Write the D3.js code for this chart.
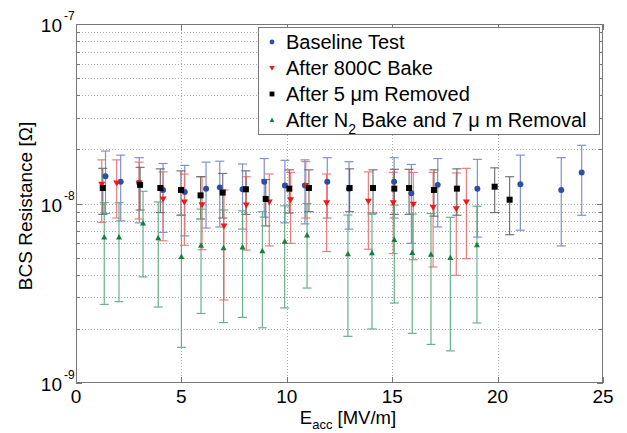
<!DOCTYPE html>
<html>
<head>
    <meta charset="UTF-8">
    <script src="https://cdn.jsdelivr.net/npm/d3@7"></script>
    <style>
        body { margin: 0; background: #fff; }
        text { font-family: Arial, "Liberation Sans", sans-serif; }
    </style>
</head>
<body>
<svg id="chart" width="627" height="433"></svg>
<script>

// values in units of 1e-8 Ohm: [E_acc, R, lower, upper]
let baseline = [
    [1.4, 1.42, 0.88, 1.96], [2.12, 1.32, 0.80, 1.86], [3.0, 1.30, 0.78, 1.80],
    [4.13, 1.19, 0.69, 1.67], [5.16, 1.16, 0.66, 1.63], [6.17, 1.21, 0.73, 1.70],
    [6.82, 1.23, 0.74, 1.72], [7.9, 1.20, 0.72, 1.66], [8.93, 1.32, 0.84, 1.78],
    [9.91, 1.26, 0.78, 1.74], [10.86, 1.26, 0.77, 1.75], [11.92, 1.32, 0.83, 1.80],
    [12.95, 1.21, 0.72, 1.71], [15.09, 1.32, 0.83, 1.80], [15.91, 1.14, 0.60, 1.65],
    [17.16, 1.27, 0.74, 1.78], [19.04, 1.21, 0.65, 1.76], [21.08, 1.28, 0.71, 1.86],
    [23.02, 1.19, 0.58, 1.80], [23.99, 1.49, 0.86, 2.11]
];
let bake800 = [
    [1.22, 1.28, 0.785, 1.75], [1.93, 1.30, 0.83, 1.75], [2.99, 1.30, 0.82, 1.70],
    [4.13, 1.06, 0.62, 1.50], [5.14, 1.02, 0.585, 1.46], [5.98, 0.985, 0.553, 1.41],
    [7.02, 0.75, 0.29, 1.19], [8.08, 0.98, 0.55, 1.41], [9.17, 1.02, 0.58, 1.46],
    [10.18, 1.05, 0.60, 1.49], [10.9, 1.26, 0.83, 1.71], [11.89, 1.01, 0.54, 1.46],
    [13.87, 1.03, 0.556, 1.50], [15.05, 1.01, 0.526, 1.49], [16.0, 0.99, 0.486, 1.49],
    [16.94, 0.953, 0.443, 1.49], [18.04, 0.935, 0.398, 1.48], [18.52, 1.02, 0.493, 1.57]
];
let removed5 = [
    [1.27, 1.22, 0.87, 1.57], [3.04, 1.27, 0.92, 1.59], [4.0, 1.22, 0.89, 1.56],
    [4.98, 1.19, 0.86, 1.52], [5.91, 1.11, 0.82, 1.41], [6.96, 1.15, 0.83, 1.47],
    [8.06, 1.20, 0.87, 1.52], [9.0, 1.06, 0.75, 1.36], [10.12, 1.21, 0.885, 1.54],
    [11.05, 1.22, 0.90, 1.54], [12.98, 1.22, 0.90, 1.56], [14.09, 1.22, 0.885, 1.54],
    [15.1, 1.21, 0.87, 1.55], [15.8, 1.22, 0.87, 1.55], [16.98, 1.19, 0.85, 1.54],
    [18.07, 1.21, 0.86, 1.56], [19.86, 1.24, 0.89, 1.58], [20.57, 1.05, 0.67, 1.41]
];
let n2bake = [
    [1.34, 0.65, 0.274, 1.01], [2.04, 0.65, 0.284, 1.01], [3.18, 0.778, 0.39, 1.17],
    [3.9, 0.645, 0.265, 1.02], [5.0, 0.506, 0.158, 0.863], [5.93, 0.585, 0.244, 0.93],
    [7.0, 0.567, 0.217, 0.92], [7.9, 0.573, 0.232, 0.91], [8.84, 0.546, 0.203, 0.90],
    [9.9, 0.616, 0.262, 0.97], [10.96, 0.668, 0.338, 1.0], [12.9, 0.525, 0.182, 0.863],
    [14.04, 0.532, 0.20, 0.87], [15.1, 0.631, 0.279, 0.98], [15.95, 0.534, 0.189, 0.874],
    [16.84, 0.522, 0.164, 0.88], [17.76, 0.50, 0.151, 0.838], [19.02, 0.589, 0.216, 0.965]
];

let xTicks = [0, 5, 10, 15, 20, 25];
let yExps = [-9, -8, -7];

let series = [
    { data: baseline, marker: "circle", fill: "#2d4ea6", bar: "#7486c4" },
    { data: bake800, marker: "down", fill: "#f01818", bar: "#ee7070" },
    { data: removed5, marker: "square", fill: "#000000", bar: "#666666" },
    { data: n2bake, marker: "up", fill: "#138040", bar: "#5aa882" }
];

let svg = d3.select("#chart");
let L = 76, T = 24, R = 603, B = 383;

let x = d3.scaleLinear([0, 25], [L, R]);
let y = d3.scaleLog([1e-9, 1e-7], [B, T]);

// ---- grid ----
let grid = svg.append("g").attr("stroke", "#aaa").attr("stroke-dasharray", "1,2").attr("stroke-width", 1);
let minor = [];
for (let e = -9; e < -7; e++) for (let m = 1; m <= 9; m++) minor.push(m * Math.pow(10, e));
minor.push(1e-7);
minor.forEach(v => {
    let yy = Math.round(y(v)) + 0.5;
    if (v === 1e-9 || v === 1e-7) return;
    grid.append("line").attr("x1", L).attr("x2", R).attr("y1", yy).attr("y2", yy);
});
xTicks.slice(1, -1).forEach(v => {
    let xx = Math.round(x(v)) + 0.5;
    grid.append("line").attr("x1", xx).attr("x2", xx).attr("y1", T).attr("y2", B);
});

// ---- ticks (inside) ----
let tk = svg.append("g").attr("stroke", "#777").attr("stroke-width", 1);
minor.forEach(v => {
    let yy = Math.round(y(v)) + 0.5;
    let len = (Math.abs(Math.log10(v) - Math.round(Math.log10(v))) < 1e-9) ? 6 : 4;
    tk.append("line").attr("x1", L).attr("x2", L + len).attr("y1", yy).attr("y2", yy);
    tk.append("line").attr("x1", R).attr("x2", R - len).attr("y1", yy).attr("y2", yy);
});
xTicks.forEach(v => {
    let xx = Math.round(x(v)) + 0.5;
    tk.append("line").attr("x1", xx).attr("x2", xx).attr("y1", B).attr("y2", B - 6);
    tk.append("line").attr("x1", xx).attr("x2", xx).attr("y1", T).attr("y2", T + 6);
});

// ---- data ----
function markerPath(type) {
    if (type === "circle") return d3.symbol(d3.symbolCircle, 28)();
    if (type === "square") return "M-3,-3H3V3H-3Z";
    if (type === "down") return "M-3.5,-2.5H3.5L0,3.5Z";
    return "M-3,2.5H3L0,-3Z";
}
series.forEach(s => {
    let g = svg.append("g");
    let bars = g.selectAll("g.eb").data(s.data).join("g")
        .attr("stroke", s.bar).attr("stroke-width", 1.2).attr("opacity", 0.9);
    bars.append("line")
        .attr("x1", d => x(d[0])).attr("x2", d => x(d[0]))
        .attr("y1", d => y(d[2] * 1e-8)).attr("y2", d => y(d[3] * 1e-8));
    bars.append("line")
        .attr("x1", d => x(d[0]) - 4.5).attr("x2", d => x(d[0]) + 4.5)
        .attr("y1", d => y(d[2] * 1e-8)).attr("y2", d => y(d[2] * 1e-8));
    bars.append("line")
        .attr("x1", d => x(d[0]) - 4.5).attr("x2", d => x(d[0]) + 4.5)
        .attr("y1", d => y(d[3] * 1e-8)).attr("y2", d => y(d[3] * 1e-8));
});
series.forEach(s => {
    svg.append("g").selectAll("path").data(s.data).join("path")
        .attr("d", markerPath(s.marker))
        .attr("transform", d => `translate(${x(d[0])},${y(d[1] * 1e-8)})`)
        .attr("fill", s.fill);
});

// ---- frame ----
svg.append("rect").attr("x", L + 0.5).attr("y", T + 0.5)
    .attr("width", R - L - 1).attr("height", B - T - 1)
    .attr("fill", "none").attr("stroke", "#777");

// ---- tick labels ----
xTicks.forEach(v => {
    svg.append("text").attr("x", x(v)).attr("y", 403)
        .attr("text-anchor", "middle").attr("font-size", 19).text(v);
});
yExps.forEach(e => {
    svg.append("text").attr("x", 62).attr("y", y(Math.pow(10, e)) + 8)
        .attr("text-anchor", "end").attr("font-size", 19).text("10");
    svg.append("text").attr("x", 64).attr("y", y(Math.pow(10, e)) - 4)
        .attr("font-size", 12).text(e);
});

// ---- axis labels ----
let xl = svg.append("text").attr("x", 348).attr("y", 424)
    .attr("text-anchor", "middle").attr("font-size", 18.5);
xl.append("tspan").text("E");
xl.append("tspan").attr("font-size", 13).attr("dy", 5).text("acc");
xl.append("tspan").attr("dy", -5).text(" [MV/m]");

svg.append("text").attr("transform", "translate(32,206) rotate(-90)")
    .attr("text-anchor", "middle").attr("font-size", 19)
    .text("BCS Resistance [\u03A9]");

// ---- legend ----
let labels = ["Baseline Test", "After 800C Bake", "After 5 \u03BCm Removed", null];
let lg = svg.append("g");
lg.append("rect").attr("x", 258.5).attr("y", 27.5).attr("width", 341).attr("height", 107)
    .attr("fill", "#fff").attr("stroke", "#777");
series.forEach((s, i) => {
    let cy = 42 + i * 26;
    lg.append("path").attr("d", markerPath(s.marker))
        .attr("transform", `translate(272,${cy}) scale(0.8)`).attr("fill", s.fill);
    let t = lg.append("text").attr("x", 286).attr("y", cy + 7).attr("font-size", 20);
    if (labels[i]) t.text(labels[i]);
    else {
        t.append("tspan").text("After N");
        t.append("tspan").attr("font-size", 14).attr("dy", 7).text("2");
        t.append("tspan").attr("dy", -7).text(" Bake and 7 \u03BC m Removal");
    }
});

</script>
</body>
</html>
